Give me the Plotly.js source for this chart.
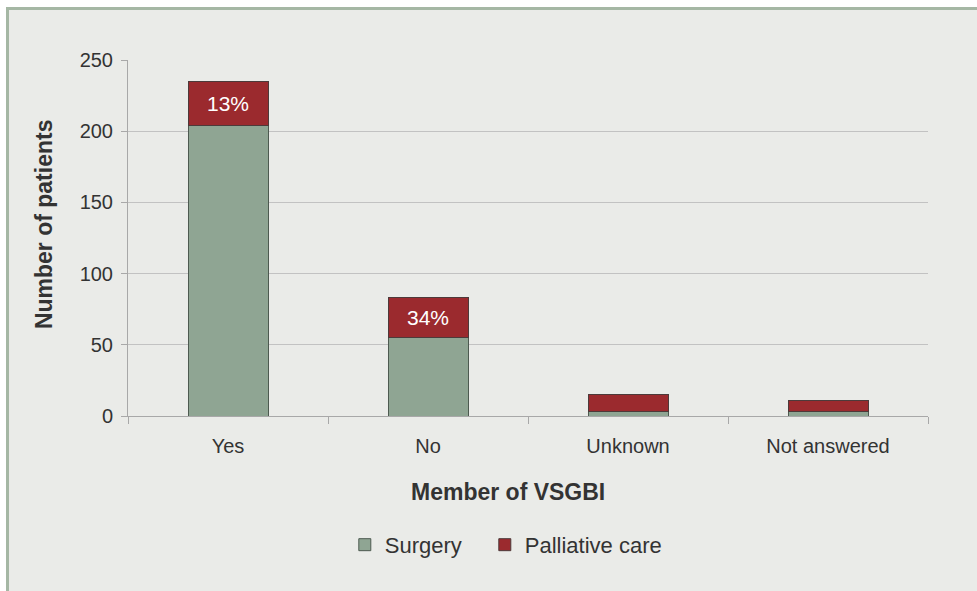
<!DOCTYPE html>
<html>
<head>
<meta charset="utf-8">
<script src="https://cdn.plot.ly/plotly-3.0.1.min.js"></script>
<style>
html,body{margin:0;padding:0;background:#ffffff;}
#wrap{position:absolute;left:0;top:0;width:977px;height:591px;background:#ffffff;}
#chart{position:absolute;left:0;top:0;width:977px;height:591px;}
#frame{position:absolute;left:6px;top:7px;width:971px;height:584px;border-top:3px solid #a5b7a4;border-left:3px solid #a5b7a4;box-sizing:border-box;background:#eaebe8;}
</style>
</head>
<body>
<div id="wrap"><div id="frame"></div><div id="chart"></div></div>
<script>
const categories = ["Yes", "No", "Unknown", "Not answered"];
const surgery = [204, 55, 3, 3];
const palliative = [31, 28, 12, 8];
const labels = ["13%", "34%", "", ""];
const xTitle = "Member of VSGBI";
const yTitle = "Number of patients";

const FONT = "Liberation Sans, Arial, sans-serif";

const traces = [
  {
    type: "bar", name: "Surgery", x: categories, y: surgery,
    marker: {color: "#8fa593", line: {color: "#4d5a50", width: 1}},
    width: 0.4, hoverinfo: "x+y", legend: "legend"
  },
  {
    type: "bar", name: "Palliative care", x: categories, y: palliative,
    text: labels, textposition: "inside", insidetextanchor: "middle",
    textfont: {color: "#ffffff", size: 21, family: FONT},
    marker: {color: "#9b2a2e", line: {color: "#4d3a3a", width: 1}},
    width: 0.4, hoverinfo: "x+y", legend: "legend2"
  }
];

const legendBase = {
  orientation: "h", xanchor: "left", y: -0.362, yanchor: "middle",
  font: {size: 22, color: "#333333"}, bgcolor: "rgba(0,0,0,0)"
};

const layout = {
  width: 977, height: 591,
  barmode: "stack",
  paper_bgcolor: "rgba(0,0,0,0)",
  plot_bgcolor: "rgba(0,0,0,0)",
  margin: {l: 128, r: 49, t: 60, b: 175},
  font: {family: FONT, color: "#333333", size: 20},
  xaxis: {
    showline: true, linecolor: "#a8a8a8", linewidth: 1,
    ticks: "outside", tickson: "boundaries", ticklen: 7, tickcolor: "#a8a8a8",
    tickfont: {size: 20, color: "#333333"}, ticklabelstandoff: 12,
    showgrid: false
  },
  yaxis: {
    range: [0, 250], tickvals: [0, 50, 100, 150, 200, 250],
    showline: true, linecolor: "#a8a8a8", linewidth: 1,
    ticks: "outside", ticklen: 6, tickcolor: "#a8a8a8",
    gridcolor: "#c2c2c2", gridwidth: 1, zeroline: false,
    tickfont: {size: 20, color: "#333333"}, ticklabelstandoff: 4
  },
  annotations: [
    {text: "<b>" + xTitle + "</b>", xref: "paper", yref: "paper", x: 0.475, y: -0.2135,
     xanchor: "center", yanchor: "middle", showarrow: false, font: {size: 23, color: "#333333"}},
    {text: "<b>" + yTitle + "</b>", xref: "paper", yref: "paper", x: -0.105, y: 0.539,
     xanchor: "center", yanchor: "middle", textangle: -90, showarrow: false, font: {size: 23, color: "#333333"}}
  ],
  showlegend: true,
  legend: Object.assign({x: 0.271}, legendBase),
  legend2: Object.assign({x: 0.446}, legendBase)
};

Plotly.newPlot("chart", traces, layout, {displayModeBar: false, staticPlot: true});
</script>
</body>
</html>
